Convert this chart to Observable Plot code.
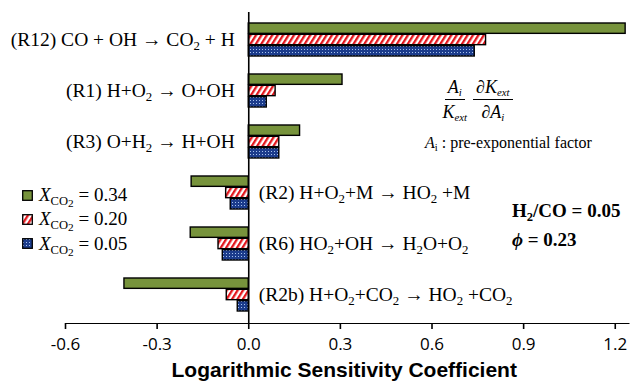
<!DOCTYPE html>
<html>
<head>
<meta charset="utf-8">
<script src="https://cdn.jsdelivr.net/npm/d3@7"></script>
<script src="https://cdn.jsdelivr.net/npm/@observablehq/plot@0.6"></script>
<style>
  html, body { margin: 0; padding: 0; background: #fff; }
  #wrap { position: relative; width: 630px; height: 390px; overflow: hidden; }
  .ser { font-family: "Liberation Serif", "Times New Roman", serif; color: #000; }
  .ann { position: absolute; white-space: nowrap; line-height: 1; }
  sub { font-size: 0.66em; vertical-align: -0.32em; line-height: 0; }
  sub sub { font-size: 0.9em; vertical-align: -0.2em; }
  .frac { display: inline-flex; flex-direction: column; align-items: center; vertical-align: middle; margin: 0 1.5px; }
  .frac .num { border-bottom: 1px solid #000; padding: 0 3px 3px 3px; }
  .frac .den { padding: 3px 3px 0 3px; }
  .frac sub { font-size: 0.6em; }
  .legrow { position: absolute; left: 22px; display: flex; align-items: center; font-size: 19px; }
  .legrow svg { margin-right: 6px; }
  #chart svg g[aria-label="x-axis tick label"] text { font-family: "Open Sans", sans-serif; font-size: 17px; fill: #000; }
</style>
</head>
<body>
<svg width="0" height="0" style="position:absolute">
  <defs>
    <pattern id="stripes" patternUnits="userSpaceOnUse" width="4.6" height="4.6" patternTransform="rotate(32)">
      <rect width="4.6" height="4.6" fill="#ffffff"/>
      <rect width="2.3" height="4.6" fill="#e3161c"/>
    </pattern>
    <pattern id="dots" patternUnits="userSpaceOnUse" width="3" height="3">
      <rect width="3" height="3" fill="#1c3c8c"/>
      <rect x="1" y="1" width="1" height="1" fill="#a7c2ec"/>
    </pattern>
  </defs>
</svg>
<div id="wrap">
  <div id="chart"></div>
</div>
<script>
// ---- data ----
const reactionIds = ["R12", "R1", "R3", "R2", "R6", "R2b"];
const reactionLabels = [
  "(R12) CO + OH → CO_2 + H",
  "(R1) H+O_2 → O+OH",
  "(R3) O+H_2 → H+OH",
  "(R2) H+O_2+M → HO_2 +M",
  "(R6) HO_2+OH → H_2O+O_2",
  "(R2b) H+O_2+CO_2 → HO_2 +CO_2"
];
const seriesKeys = ["0.34", "0.20", "0.05"];
const sensX034 = [1.234, 0.307, 0.168, -0.187, -0.190, -0.407];
const sensX020 = [0.777, 0.088, 0.100, -0.074, -0.099, -0.072];
const sensX005 = [0.740, 0.059, 0.100, -0.059, -0.085, -0.036];
const xTicks = [-0.6, -0.3, 0.0, 0.3, 0.6, 0.9, 1.2];
const xTitle = "Logarithmic Sensitivity Coefficient";
const mixtureNote = ["H_2/CO = 0.05", "ϕ = 0.23"];

// ---- styles (not data) ----
const seriesFill = ["#77933c", "url(#stripes)", "url(#dots)"];
const seriesValues = [sensX034, sensX020, sensX005];

const rows = [];
seriesKeys.forEach((s, si) => {
  reactionIds.forEach((r, ri) => rows.push({series: s, reaction: r, value: seriesValues[si][ri]}));
});
const labelRows = reactionIds.map((r, i) => ({reaction: r, label: reactionLabels[i], lead: sensX034[i]}));

const H = 390, mTop = 12, mBottom = 67;
const innerH = H - mTop - mBottom;
const padIn = 0.344, padOut = 0.174;
const step = innerH / (reactionIds.length - padIn + 2 * padOut);
const bw = step * (1 - padIn);
const bh = bw / 3;

const barMarks = seriesKeys.map((s, i) =>
  Plot.barX(rows.filter(d => d.series === s), {
    x: "value", y: "reaction",
    fill: seriesFill[i], stroke: "#000", strokeWidth: 1.4,
    insetTop: bh * i, insetBottom: bh * (2 - i)
  })
);

const plot = Plot.plot({
  width: 630,
  height: H,
  marginLeft: 65,
  marginRight: 1.5,
  marginTop: mTop,
  marginBottom: mBottom,
  style: {background: "transparent", overflow: "visible"},
  x: {domain: [-0.6, 1.245], ticks: xTicks, tickFormat: d => d.toFixed(1), tickSize: 6, tickPadding: 8, line: true, label: null},
  y: {domain: reactionIds, paddingInner: padIn, paddingOuter: padOut, axis: null},
  marks: [
    ...barMarks,
    Plot.ruleX([0], {stroke: "#000", strokeWidth: 1.6}),
    Plot.text(labelRows.filter(d => d.lead > 0), {
      x: 0, y: "reaction", text: "label", textAnchor: "end", dx: -14,
      fontSize: 19.5, fontFamily: "Liberation Serif", fill: "#000"
    }),
    Plot.text(labelRows.filter(d => d.lead <= 0), {
      x: 0, y: "reaction", text: "label", textAnchor: "start", dx: 10,
      fontSize: 19.5, fontFamily: "Liberation Serif", fill: "#000"
    }),
    Plot.text([xTitle], {
      frameAnchor: "bottom", dx: -3, dy: 53, text: d => d,
      fontSize: 21, fontWeight: "bold", fontFamily: "Liberation Sans", fill: "#000"
    })
  ]
});

// subscripts: "_x" or "_{xyz}"
const NS = "http://www.w3.org/2000/svg";
d3.select(plot).selectAll("text").each(function () {
  const s = this.textContent;
  if (!s.includes("_")) return;
  this.textContent = "";
  const parts = s.split(/_(\{[^}]*\}|.)/);
  parts.forEach((p, i) => {
    if (!p) return;
    const t = document.createElementNS(NS, "tspan");
    if (i % 2 === 1) {
      t.textContent = p.replace(/[{}]/g, "");
      t.setAttribute("font-size", "0.66em");
      t.setAttribute("dy", "4");
    } else {
      t.textContent = p;
      if (i > 0) t.setAttribute("dy", "-4");
    }
    this.appendChild(t);
  });
});
d3.select(plot).selectAll('g[aria-label="x-axis tick"] path, g[aria-label="x-axis line"] path, g[aria-label="x-axis line"] line').attr("stroke-width", 1.6);

document.getElementById("chart").appendChild(plot);

const wrap = document.getElementById("wrap");
const SERIF = 'font-family:"Liberation Serif","Times New Roman",serif;';
function addAnn(html, left, top, extraStyle) {
  const d = document.createElement("div");
  d.className = "ann ser";
  d.setAttribute("style", `left:${left}px;top:${top}px;${SERIF}${extraStyle || ""}`);
  d.innerHTML = html;
  wrap.appendChild(d);
  return d;
}
const sub = s => s.replace(/_\{([^}]*)\}|_(.)/g, (m, a, b) => "<sub>" + (a || b) + "</sub>");

// legend
seriesKeys.forEach((s, i) => {
  const row = document.createElement("div");
  row.className = "legrow ser";
  row.style.top = (184 + i * 24.3) + "px";
  row.innerHTML = `<svg width="11" height="11"><rect x="0.7" y="0.7" width="9.6" height="9.6" fill="${seriesFill[i]}" stroke="#000" stroke-width="1.3"/></svg><span><i>X</i><sub>CO<sub>2</sub></sub> = ${s}</span>`;
  wrap.appendChild(row);
});

// formula annotation
addAnn(`<span class="frac"><span class="num"><i>A<sub>i</sub></i></span><span class="den"><i>K<sub>ext</sub></i></span></span><span class="frac"><span class="num"><i>∂K<sub>ext</sub></i></span><span class="den"><i>∂A<sub>i</sub></i></span></span>`, 438, 78, "font-size:18px;");
addAnn(`<i>A</i><sub>i</sub> : pre-exponential factor`, 425, 135, "font-size:16px;");
addAnn(sub(mixtureNote[0]), 512, 201, "font-size:19px;font-weight:bold;");
addAnn(`<b><i>${mixtureNote[1].charAt(0)}</i>${mixtureNote[1].slice(1)}</b>`, 512, 230, "font-size:19px;");
</script>
</body>
</html>
